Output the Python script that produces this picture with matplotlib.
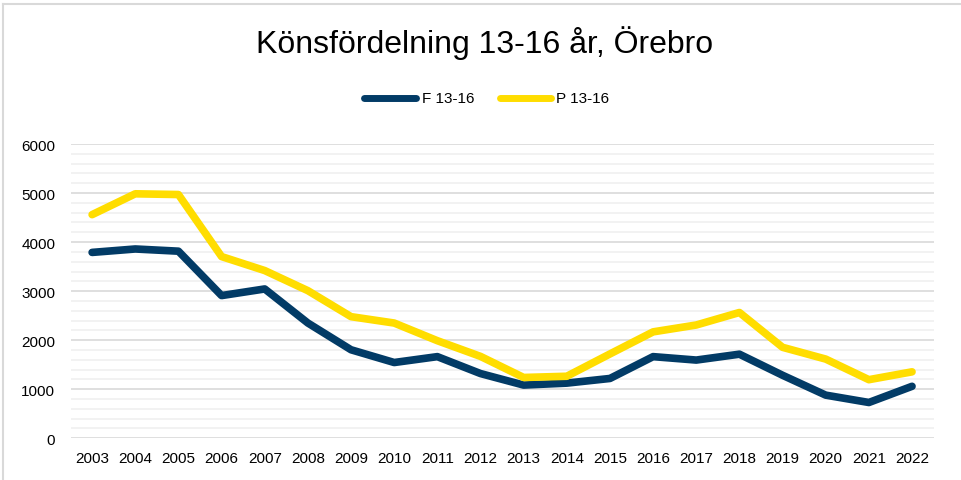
import matplotlib
matplotlib.use("Agg")
import matplotlib.pyplot as plt
from matplotlib.lines import Line2D
import numpy as np

years = ["2003", "2004", "2005", "2006", "2007", "2008", "2009", "2010", "2011", "2012",
         "2013", "2014", "2015", "2016", "2017", "2018", "2019", "2020", "2021", "2022"]
f_values = [3790, 3860, 3815, 2910, 3045, 2350, 1805, 1545, 1665, 1320,
            1085, 1125, 1220, 1665, 1595, 1715, 1285, 880, 730, 1060]
p_values = [4560, 4985, 4970, 3705, 3420, 3010, 2480, 2350, 1990, 1670,
            1240, 1265, 1720, 2170, 2310, 2565, 1855, 1615, 1195, 1355]
series_names = ["F 13-16", "P 13-16"]
title = "Könsfördelning 13-16 år, Örebro"

plt.rcParams['font.family'] = ['Liberation Sans', 'DejaVu Sans']

W, H = 961, 481
fig = plt.figure(figsize=(W / 100, H / 100), dpi=100)
ax = fig.add_axes([0.0734, 0.0867, 0.8981, 0.6118])

x = np.arange(len(years))
navy = "#023b66"
yellow = "#ffdd00"
colors = [navy, yellow]
ax.plot(x, f_values, color=navy, lw=5.5, solid_capstyle='round', solid_joinstyle='round', zorder=3)
ax.plot(x, p_values, color=yellow, lw=5.5, solid_capstyle='round', solid_joinstyle='round', zorder=3)

ax.set_xlim(-0.5, len(years) - 0.5)
ax.set_ylim(0, 6000)
ax.set_yticks(np.arange(0, 6001, 1000))
ax.set_yticks(np.arange(0, 6001, 200), minor=True)
ax.set_xticks(x)
ax.set_xticklabels(years)
ax.grid(axis='y', which='major', color='#d9d9d9', lw=1.2, zorder=0)
ax.grid(axis='y', which='minor', color='#f0f0f0', lw=1.2, zorder=0)
ax.tick_params(axis='both', which='both', length=0, labelsize=11, colors='#000000')
ax.tick_params(axis='y', pad=11)
ax.tick_params(axis='x', pad=9)
for s in ax.spines.values():
    s.set_visible(False)
ax.set_axisbelow(True)

fig.text(0.504, 0.91, title, ha='center', va='center', fontsize=23)

# legend drawn manually (pixel layout of the reference)
leg_y = 1 - 99 / H
leg_items = [(364, 416, 422), (500, 551, 556)]
for (x0, x1, xt), name, c in zip(leg_items, series_names, colors):
    fig.add_artist(Line2D([x0 / W, x1 / W], [leg_y, leg_y], transform=fig.transFigure,
                          color=c, lw=5, solid_capstyle='round'))
    fig.text(xt / W, leg_y, name, ha='left', va='center', fontsize=11)

# chart border (top and left)
fig.add_artist(Line2D([0.003, 1.0], [0.989, 0.989], transform=fig.transFigure, color='#d9d9d9', lw=1.5))
fig.add_artist(Line2D([0.003, 0.003], [0.0, 0.989], transform=fig.transFigure, color='#d9d9d9', lw=1.5))

fig.savefig("out.png", dpi=100)
